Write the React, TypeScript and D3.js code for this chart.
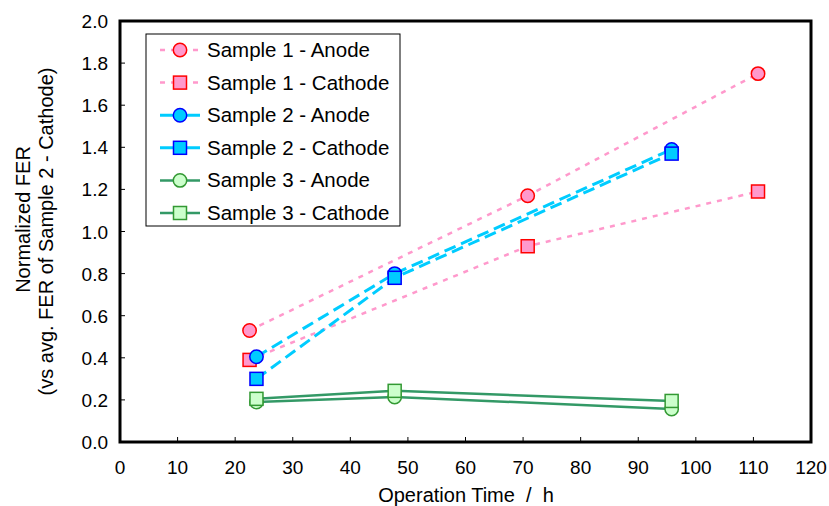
import React from "react";
import * as d3 from "d3";

const W = 829;
const H = 506;

const s1Time = [22.5, 70.8, 110.8];
const s1Anode = [0.53, 1.17, 1.75];
const s1Cathode = [0.39, 0.93, 1.19];
const s23Time = [23.7, 47.7, 95.8];
const s2Anode = [0.405, 0.80, 1.39];
const s2Cathode = [0.30, 0.78, 1.37];
const s3Anode = [0.19, 0.214, 0.157];
const s3Cathode = [0.205, 0.243, 0.195];

const xTicks = [0, 10, 20, 30, 40, 50, 60, 70, 80, 90, 100, 110, 120];
const yTicks = [0, 0.2, 0.4, 0.6, 0.8, 1.0, 1.2, 1.4, 1.6, 1.8, 2.0];

const seriesNames = [
  "Sample 1 - Anode",
  "Sample 1 - Cathode",
  "Sample 2 - Anode",
  "Sample 2 - Cathode",
  "Sample 3 - Anode",
  "Sample 3 - Cathode",
];

type Style = {
  line: string;
  width: number;
  dash: string | null;
  fill: string;
  stroke: string;
  shape: "circle" | "square";
};

const styles: Style[] = [
  { line: "#ff99cc", width: 2.5, dash: "5,6", fill: "#ff99cc", stroke: "#ff0000", shape: "circle" },
  { line: "#ff99cc", width: 2.5, dash: "5,6", fill: "#ff99cc", stroke: "#ff0000", shape: "square" },
  { line: "#00ccff", width: 3, dash: "12,6", fill: "#00ccff", stroke: "#0000ff", shape: "circle" },
  { line: "#00ccff", width: 3, dash: "12,6", fill: "#00ccff", stroke: "#0000ff", shape: "square" },
  { line: "#339966", width: 2.5, dash: null, fill: "#ccffcc", stroke: "#339933", shape: "circle" },
  { line: "#339966", width: 2.5, dash: null, fill: "#ccffcc", stroke: "#339933", shape: "square" },
];

const seriesData: [number[], number[]][] = [
  [s1Time, s1Anode],
  [s1Time, s1Cathode],
  [s23Time, s2Anode],
  [s23Time, s2Cathode],
  [s23Time, s3Anode],
  [s23Time, s3Cathode],
];

const FONT = "'Liberation Sans', Arial, sans-serif";

function Marker({ x, y, st }: { x: number; y: number; st: Style }) {
  if (st.shape === "circle") {
    return <circle cx={x} cy={y} r={6.7} fill={st.fill} stroke={st.stroke} strokeWidth={1.5} />;
  }
  return <rect x={x - 6.5} y={y - 6.5} width={13} height={13} fill={st.fill} stroke={st.stroke} strokeWidth={1.5} />;
}

export default function App() {
  const left = 120, right = 811, top = 21, bottom = 442;
  const x = d3.scaleLinear().domain([0, 120]).range([left, right]);
  const y = d3.scaleLinear().domain([0, 2]).range([bottom, top]);
  const lineGen = d3
    .line<[number, number]>()
    .x((d) => x(d[0]))
    .y((d) => y(d[1]));

  const legX = 146, legY = 34, legW = 254, legH = 192;
  const rowY = (i: number) => 50 + i * 32.6;

  return (
    <svg width={W} height={H} style={{ position: "absolute", left: 0, top: 0, background: "#fff" }} fontFamily={FONT}>
      <rect x={0} y={0} width={W} height={H} fill="#fff" />
      {/* ticks */}
      {yTicks.map((t) => (
        <g key={"y" + t}>
          {t > 0 && t < 2 && <line x1={left} x2={left + 5} y1={y(t)} y2={y(t)} stroke="#000" strokeWidth={1} />}
          <text x={108} y={y(t) + 7} fontSize={19} textAnchor="end" fill="#000">
            {t.toFixed(1)}
          </text>
        </g>
      ))}
      {xTicks.map((t) => (
        <g key={"x" + t}>
          {t > 0 && t < 120 && <line x1={x(t)} x2={x(t)} y1={bottom} y2={bottom - 5} stroke="#000" strokeWidth={1} />}
          <text x={x(t)} y={474} fontSize={19} textAnchor="middle" fill="#000">
            {t}
          </text>
        </g>
      ))}
      {/* axis titles */}
      <text x={466} y={502} fontSize={20} textAnchor="middle" fill="#000" xmlSpace="preserve">
        {"Operation Time  /  h"}
      </text>
      <g transform={`translate(30, ${(top + bottom) / 2 - 12}) rotate(-90)`}>
        <text x={0} y={0} fontSize={20} textAnchor="middle" fill="#000">Normalized FER</text>
      </g>
      <g transform={`translate(53, ${(top + bottom) / 2}) rotate(-90)`}>
        <text x={0} y={0} fontSize={20} textAnchor="middle" fill="#000">(vs avg. FER of Sample 2 - Cathode)</text>
      </g>
      {/* series */}
      {seriesData.map(([xs, ys], i) => {
        const st = styles[i];
        const pts: [number, number][] = xs.map((v, k) => [v, ys[k]]);
        return (
          <g key={"s" + i}>
            <path d={lineGen(pts) || ""} fill="none" stroke={st.line} strokeWidth={st.width} strokeDasharray={st.dash || undefined} />
            {pts.map((p, k) => (
              <Marker key={k} x={x(p[0])} y={y(p[1])} st={st} />
            ))}
          </g>
        );
      })}
      {/* frame */}
      <rect x={left} y={top} width={right - left} height={bottom - top} fill="none" stroke="#000" strokeWidth={3} />
      {/* legend */}
      <rect x={legX} y={legY} width={legW} height={legH} fill="#fff" stroke="#000" strokeWidth={1} />
      {seriesNames.map((name, i) => {
        const st = styles[i];
        const cy = rowY(i);
        return (
          <g key={"l" + i}>
            <line x1={160} x2={200} y1={cy} y2={cy} stroke={st.line} strokeWidth={st.width} strokeDasharray={i < 2 ? "5,6" : undefined} />
            <Marker x={180} y={cy} st={st} />
            <text x={207} y={cy + 7} fontSize={20.5} fill="#000">{name}</text>
          </g>
        );
      })}
    </svg>
  );
}
